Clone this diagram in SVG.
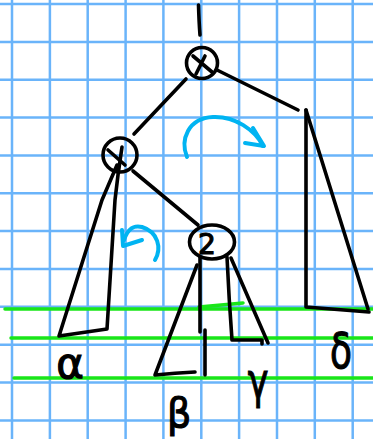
<svg xmlns="http://www.w3.org/2000/svg" width="373" height="439" viewBox="0 0 373 439">
<style>
.grid line{stroke:#6ab4fa;stroke-width:2.5}
.ink{fill:none;stroke:#000;stroke-width:3.6;stroke-linecap:round;stroke-linejoin:round}
.green{fill:none;stroke:#19e619;stroke-width:3.5;stroke-linecap:round}
.blue{fill:none;stroke:#00b4f2;stroke-width:4;stroke-linecap:round;stroke-linejoin:round}
.lbl{font-family:"DejaVu Sans",sans-serif;fill:#000;stroke:#000;stroke-width:1.2;text-anchor:middle}
</style>
<rect width="373" height="439" fill="#fff"/>
<g class="grid">
<line x1="12" y1="0" x2="12" y2="439"/><line x1="49.9" y1="0" x2="49.9" y2="439"/><line x1="87.7" y1="0" x2="87.7" y2="439"/><line x1="125.6" y1="0" x2="125.6" y2="439"/><line x1="163.4" y1="0" x2="163.4" y2="439"/><line x1="201.3" y1="0" x2="201.3" y2="439"/><line x1="239.1" y1="0" x2="239.1" y2="439"/><line x1="277" y1="0" x2="277" y2="439"/><line x1="314.8" y1="0" x2="314.8" y2="439"/><line x1="352.7" y1="0" x2="352.7" y2="439"/>
<line x1="0" y1="4" x2="373" y2="4"/><line x1="0" y1="41.9" x2="373" y2="41.9"/><line x1="0" y1="79.7" x2="373" y2="79.7"/><line x1="0" y1="117.6" x2="373" y2="117.6"/><line x1="0" y1="155.4" x2="373" y2="155.4"/><line x1="0" y1="193.3" x2="373" y2="193.3"/><line x1="0" y1="231.1" x2="373" y2="231.1"/><line x1="0" y1="269" x2="373" y2="269"/><line x1="0" y1="306.8" x2="373" y2="306.8"/><line x1="0" y1="344.7" x2="373" y2="344.7"/><line x1="0" y1="382.5" x2="373" y2="382.5"/><line x1="0" y1="420.4" x2="373" y2="420.4"/>
</g>
<g id="levels">
<path class="green" d="M5 309 L373 309"/>
<path class="green" d="M199 307 L243 303"/>
<path class="green" d="M11 338 L373 338"/>
<path class="green" d="M14 378 L373 378"/>
</g>
<g id="connectors">
<path class="ink" d="M198.5 5 Q199 22 200 35"/>
<path class="ink" d="M217 70 L298 110"/>
<path class="ink" d="M186 79 L134 134"/>
<path class="ink" d="M133 171 L198 225"/>
</g>
<g id="root">
<circle class="ink" cx="202" cy="63" r="15.5"/>
<path class="ink" d="M193 56 L212 72 M205 56 L196 74"/>
</g>
<g id="left">
<circle class="ink" cx="120" cy="155" r="17"/>
<path class="ink" d="M108 150 L125 165"/>
</g>
<g id="node2">
<ellipse class="ink" cx="212" cy="242" rx="22.5" ry="17"/>
<text class="lbl" x="207" y="254" font-size="28">2</text>
</g>
<g id="alpha">
<path class="ink" d="M122 147 L118 175 L115 200 L107 329 L59 336 L102 200 L117 165"/>
<text class="lbl" x="70" y="378" font-size="42">α</text>
</g>
<g id="beta">
<path class="ink" d="M197 265 L155 375 Q175 373 195 372"/>
<path class="ink" d="M200 257 L200 332"/>
<path class="ink" d="M205 330 L205 375"/>
<text class="lbl" transform="translate(179 427) scale(0.95 1)" font-size="40">β</text>
</g>
<g id="gamma">
<path class="ink" d="M227 257 Q229 300 232 340 L262 340 L262 344"/>
<path class="ink" d="M231 258 L268 343"/>
<text class="lbl" transform="translate(258 398) scale(0.7 1)" font-size="50">γ</text>
</g>
<g id="delta">
<path class="ink" d="M306 110 L306 307 L369 312"/>
<path class="ink" d="M306 110 L368 309"/>
<text class="lbl" transform="translate(341 368) scale(0.72 1)" font-size="50">δ</text>
</g>
<g id="rotations">
<path class="blue" d="M187 157 C180 140 188 118 213 117 C235 116 255 130 263 146"/>
<path class="blue" d="M253 128 L264 146 L245 143"/>
<path class="blue" d="M155 260 C162 248 158 232 142 227 C134 225 128 228 124 240"/>
<path class="blue" d="M122 230 L123 246 L142 240"/>
</g>
</svg>
